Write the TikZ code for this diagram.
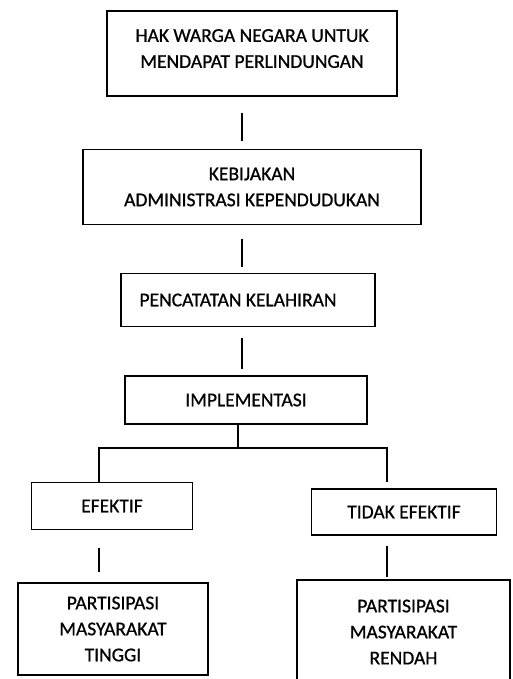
\documentclass[tikz,border=0pt]{standalone}
\usepackage{fontspec}
\setmainfont{Carlito}
\newfontfamily\boxfont[FakeBold=0.8]{Carlito}
\usepackage{tikz}

\tikzset{
  box/.style={draw, line width=1.2pt, align=center, inner sep=0pt,
    font=\boxfont\fontsize{19.5}{26}\selectfont},
  link/.style={line width=1.2pt}
}

\begin{document}
\begin{tikzpicture}[x=1pt,y=-1pt]
                    \useasboundingbox (0,0) rectangle (513,679);
                    \clip (0,0) rectangle (513,679);

                    \node[box, minimum width=290pt, minimum height=85pt] (hak) at (252,53.5)
                        {HAK WARGA NEGARA UNTUK\\MENDAPAT PERLINDUNGAN\rule[-10pt]{0pt}{10pt}};
                    \node[box, minimum width=338pt, minimum height=75pt] (kebijakan) at (252,187)
                        {KEBIJAKAN\\ADMINISTRASI KEPENDUDUKAN};
                    \node[box, minimum width=254pt, minimum height=53pt] (pencatatan) at (248,300)
                        {PENCATATAN KELAHIRAN\hspace{20pt}};
                    \node[box, minimum width=242pt, minimum height=48pt] (implementasi) at (246,400)
                        {IMPLEMENTASI};

                    \node[box, minimum width=161pt, minimum height=47pt] (efektif) at (112,506)
                        {EFEKTIF};
                    \node[box, minimum width=185pt, minimum height=46pt] (tidak) at (404,512)
                        {TIDAK EFEKTIF};

                    \node[box, minimum width=190pt, minimum height=92pt] (tinggi) at (113,629)
                        {PARTISIPASI\\MASYARAKAT\\TINGGI};
                    \node[box, minimum width=213pt, minimum height=104pt] (rendah) at (403.5,632)
                        {PARTISIPASI\\MASYARAKAT\\RENDAH};

                    \draw[link, shorten <=16pt, shorten >=7.5pt] ([xshift=-10pt]hak.south) -- ([xshift=-10pt]kebijakan.north);
                    \draw[link, shorten <=13.5pt, shorten >=5.5pt] ([xshift=-10pt]kebijakan.south) -- ([xshift=-6pt]pencatatan.north);
                    \draw[link, shorten <=10.5pt, shorten >=6pt] ([xshift=-6pt]pencatatan.south) -- ([xshift=-4pt]implementasi.north);

                    \coordinate (cabang) at (238,448);
                    \draw[link] ([xshift=-8pt]implementasi.south) -- (cabang);
                    \draw[link, shorten >=6pt] ([xshift=-13pt]efektif.north) |- (cabang) -| ([xshift=-17pt]tidak.north);

                    \draw[link, shorten <=17.5pt, shorten >=10pt] ([xshift=-13pt]efektif.south) -- ([xshift=-14pt]tinggi.north);
                    \draw[link, shorten <=10pt, shorten >=2pt] ([xshift=-17pt]tidak.south) -- ([xshift=-16.5pt]rendah.north);

                \end{tikzpicture}
\end{document}
